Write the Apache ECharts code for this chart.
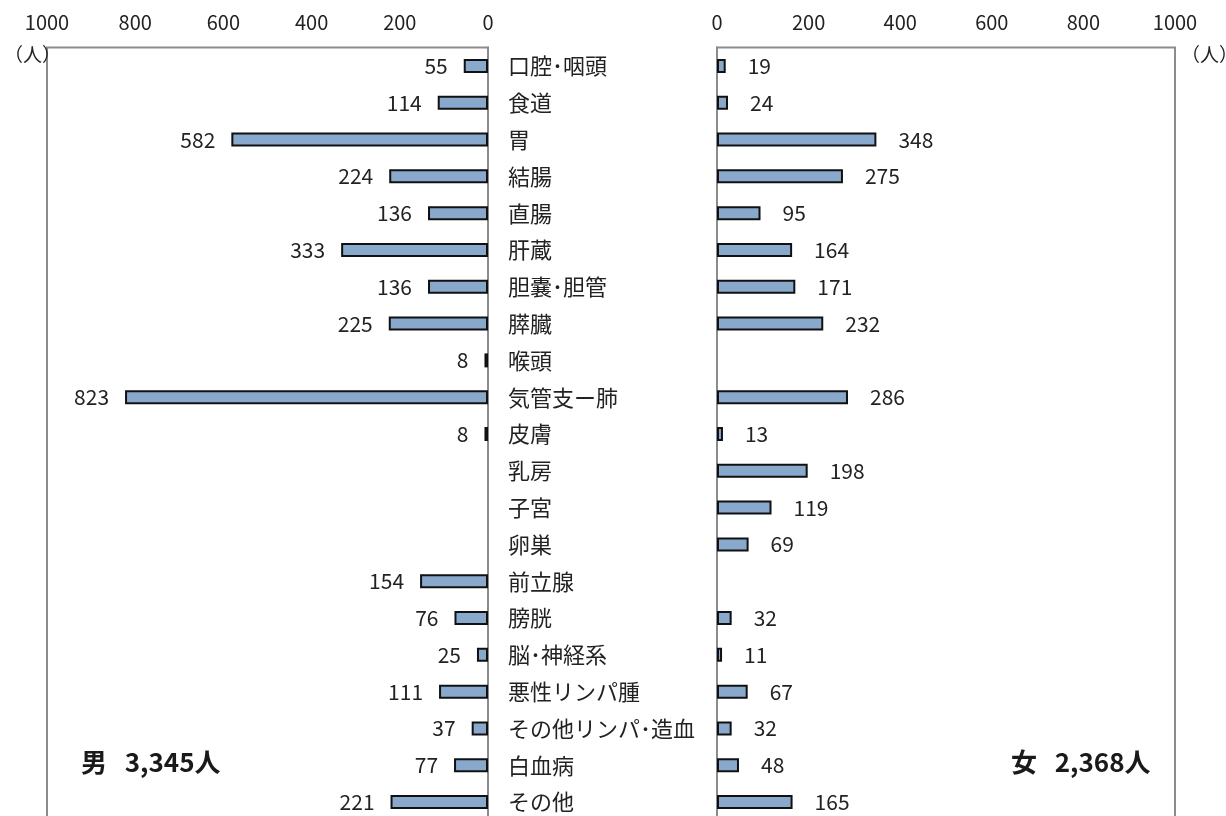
<!DOCTYPE html>
<html><head><meta charset="utf-8">
<script src="https://cdn.jsdelivr.net/npm/echarts@6/dist/echarts.min.js"></script>
<style>html,body{margin:0;padding:0;background:#fff;}#c{width:1226px;height:816px;}</style>
</head><body><div id="c"></div>
<script>
const categories = ['口腔･咽頭','食道','胃','結腸','直腸','肝蔵','胆嚢･胆管','膵臓','喉頭','気管支ー肺','皮膚','乳房','子宮','卵巣','前立腺','膀胱','脳･神経系','悪性リンパ腫','その他リンパ･造血','白血病','その他'];
const male = [55,114,582,224,136,333,136,225,8,823,8,null,null,null,154,76,25,111,37,77,221];
const female = [19,24,348,275,95,164,171,232,null,286,13,198,119,69,null,32,11,67,32,48,165];
const axisTicks = [0,200,400,600,800,1000];
const maleTotal = '男   3,345人';
const femaleTotal = '女   2,368人';

const FONT = "'Noto Sans CJK JP',sans-serif";
const chart = echarts.init(document.getElementById('c'));
const xBase = {type:'value', min:axisTicks[0], max:axisTicks[axisTicks.length-1], interval:200, position:'top',
  splitLine:{show:false}, axisLine:{show:false}, axisTick:{show:false},
  axisLabel:{fontSize:20, color:'#222', fontFamily:FONT, margin:15, formatter:v=>String(v)}};
const barStyle = {color:'#88a8cc', borderColor:'#111', borderWidth:2};
chart.setOption({
  animation:false,
  grid:[
    {left:47, width:441, top:47.5, height:773, outerBoundsMode:'none', containLabel:false, show:true, borderColor:'#8c8c8c', borderWidth:2, backgroundColor:'transparent'},
    {left:717, width:458, top:47.5, height:773, outerBoundsMode:'none', containLabel:false, show:true, borderColor:'#8c8c8c', borderWidth:2, backgroundColor:'transparent'}
  ],
  xAxis:[
    Object.assign({}, xBase, {gridIndex:0, inverse:true}),
    Object.assign({}, xBase, {gridIndex:1})
  ],
  yAxis:[
    {gridIndex:0, type:'category', data:categories, inverse:true, position:'right',
     axisLine:{show:true, lineStyle:{color:'#8c8c8c', width:2}}, axisTick:{show:false}, splitLine:{show:false},
     axisLabel:{margin:20, align:'left', fontSize:22, color:'#222', fontFamily:FONT}},
    {gridIndex:1, type:'category', data:categories, inverse:true, position:'left',
     axisLine:{show:true, lineStyle:{color:'#8c8c8c', width:2}}, axisTick:{show:false}, splitLine:{show:false},
     axisLabel:{show:false}}
  ],
  series:[
    {type:'bar', xAxisIndex:0, yAxisIndex:0, data:male, barWidth:14, itemStyle:barStyle,
     label:{show:true, position:'left', distance:16, fontSize:21, color:'#222', fontFamily:FONT}},
    {type:'bar', xAxisIndex:1, yAxisIndex:1, data:female, barWidth:14, itemStyle:barStyle,
     label:{show:true, position:'right', distance:22, fontSize:21, color:'#222', fontFamily:FONT}}
  ],
  graphic:[
    {type:'text', left:4, top:45, style:{text:'（人）', fontSize:19, fill:'#222', fontFamily:FONT}},
    {type:'text', left:1181, top:45, style:{text:'（人）', fontSize:19, fill:'#222', fontFamily:FONT}},
    {type:'text', left:81, top:749, style:{text:maleTotal, fontSize:26, fontWeight:'bold', fill:'#1a1a1a', fontFamily:FONT}},
    {type:'text', left:1011, top:749, style:{text:femaleTotal, fontSize:26, fontWeight:'bold', fill:'#1a1a1a', fontFamily:FONT}}
  ]
});
</script></body></html>
